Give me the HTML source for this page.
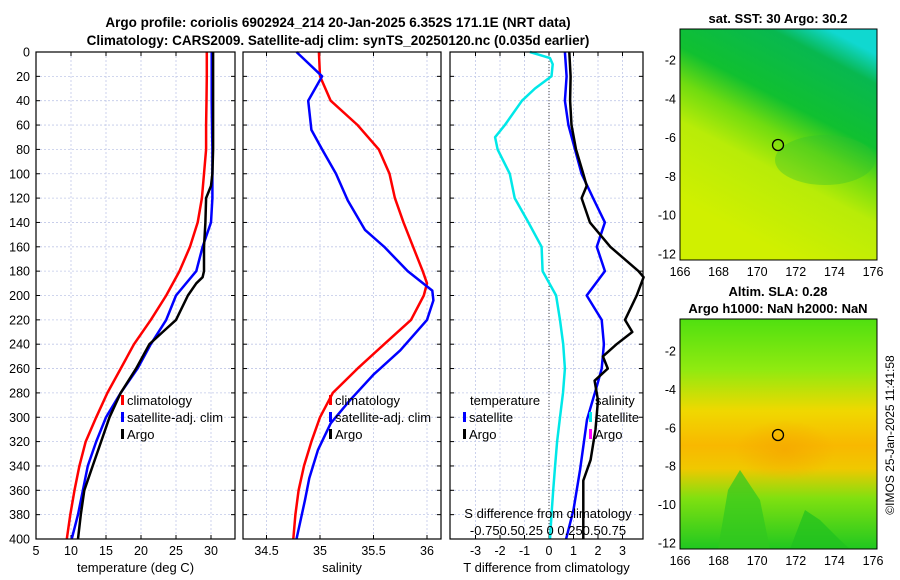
<!DOCTYPE html>
<html><head><meta charset="utf-8"><style>
body{margin:0;background:#fff;}
svg{display:block;font-family:"Liberation Sans","DejaVu Sans",sans-serif;}
</style></head><body>
<svg id="c" width="900" height="580" viewBox="0 0 900 580">
<defs>
<linearGradient id="sst" x1="0.75" y1="0" x2="0.35" y2="0.9">
<stop offset="0" stop-color="#10d8d0"/><stop offset="0.12" stop-color="#08b850"/><stop offset="0.38" stop-color="#10c030"/><stop offset="0.52" stop-color="#70dc10"/><stop offset="0.68" stop-color="#b8ec08"/><stop offset="1" stop-color="#d0f000"/>
</linearGradient>
<linearGradient id="sla" x1="0" y1="0" x2="0" y2="1">
<stop offset="0" stop-color="#50e010"/><stop offset="0.22" stop-color="#90ea10"/><stop offset="0.4" stop-color="#f0d800"/><stop offset="0.55" stop-color="#f8b800"/><stop offset="0.65" stop-color="#f0c800"/><stop offset="0.78" stop-color="#80e010"/><stop offset="1" stop-color="#20c820"/>
</linearGradient>
<radialGradient id="blob" cx="0.5" cy="0.5" r="0.5"><stop offset="0" stop-color="#f5a800" stop-opacity="0.8"/><stop offset="1" stop-color="#f5a800" stop-opacity="0"/></radialGradient>
</defs>
<text x="338" y="27" font-size="13.5" font-weight="bold" text-anchor="middle">Argo profile: coriolis 6902924_214 20-Jan-2025 6.352S 171.1E (NRT data)</text>
<text x="338" y="45" font-size="13.5" font-weight="bold" text-anchor="middle">Climatology: CARS2009. Satellite-adj clim: synTS_20250120.nc (0.035d earlier)</text>
<g id="g"></g>
<g>
<text x="778" y="23" font-size="13" font-weight="bold" text-anchor="middle">sat. SST: 30 Argo: 30.2</text>
<rect x="680" y="29" width="197" height="231" fill="url(#sst)"/>
<ellipse cx="825" cy="160" rx="50" ry="25" fill="#30c030" opacity="0.35"/>
<circle cx="778" cy="145" r="5.5" fill="none" stroke="#000" stroke-width="1.3"/>
<rect x="680" y="29" width="197" height="231" fill="none" stroke="#000"/>
</g>
<g>
<text x="778" y="296" font-size="13" font-weight="bold" text-anchor="middle">Altim. SLA: 0.28</text>
<text x="778" y="313" font-size="13" font-weight="bold" text-anchor="middle">Argo h1000: NaN h2000: NaN</text>
<rect x="680" y="319" width="197" height="230" fill="url(#sla)"/>
<ellipse cx="785" cy="450" rx="50" ry="30" fill="url(#blob)"/>
<path d="M718 549 L728 490 L740 470 L760 500 L770 549 Z" fill="#30c820" opacity="0.7"/>
<path d="M790 549 L805 510 L820 520 L840 540 L850 549 Z" fill="#20c020" opacity="0.7"/>
<circle cx="778" cy="435" r="5.5" fill="none" stroke="#000" stroke-width="1.3"/>
<rect x="680" y="319" width="197" height="230" fill="none" stroke="#000"/>
</g>
<text transform="translate(894,435) rotate(-90)" font-size="12" text-anchor="middle">©IMOS 25-Jan-2025 11:41:58</text>
</svg>
<script>
const depthsClim=[0,20,40,60,80,100,120,140,160,180,200,220,240,260,280,300,320,340,360,380,400];
const tempClim=[29.4,29.4,29.35,29.3,29.3,29.0,28.7,28.1,27,25.5,23.6,21.4,19,17.1,15.2,13.6,12.1,11.2,10.5,9.9,9.4];
const tempSat=[30.1,30.1,30.1,30.15,30.2,30.2,30.2,30.0,28.8,27.9,25,23.6,21.4,19.5,17.1,15,13.6,12.4,11.7,11,10.1];
const depthsArgo=[0,20,40,60,80,100,110,120,140,160,180,185,190,200,220,230,240,260,280,300,320,340,360,380,400];
const tempArgo=[30.3,30.3,30.3,30.3,30.3,30.2,30.0,29.3,29.2,29.0,29.0,28.8,27.9,26.7,25,23.1,21.2,19.3,17.1,15.5,14.3,13.1,11.9,11.4,11.0];
const depthsSal=[0,20,40,60,80,100,120,140,160,180,190,200,220,240,260,280,300,320,340,360,380,400];
const salClim=[34.99,35,35.1,35.35,35.55,35.65,35.7,35.78,35.87,35.96,36.0,35.97,35.85,35.6,35.35,35.12,35,34.92,34.85,34.8,34.77,34.75];
const depthsSalSat=[0,20,40,64,80,100,122,146,160,180,196,204,220,245,265,286,305,327,350,368,400];
const salSat=[34.78,35.02,34.89,34.92,35.02,35.15,35.26,35.42,35.6,35.82,36.05,36.06,36.0,35.75,35.5,35.28,35.1,34.98,34.9,34.86,34.78];
const depthsDS=[0,5,10,20,30,40,60,70,80,100,120,140,160,180,200,220,240,260,280,300,320,340,360,380,400];
const dSat=[-0.78,0.04,0.15,0.1,-0.57,-1.1,-1.8,-2.2,-2.1,-1.6,-1.4,-0.84,-0.3,-0.26,0.29,0.45,0.58,0.65,0.57,0.45,0.33,0.25,0.17,0.1,0.04];
const depthsDT=[0,20,40,60,80,100,120,140,160,180,200,220,240,260,274,302,343,376,400];
const dTsat=[0.65,0.72,0.65,0.79,1.06,1.33,1.8,2.28,1.95,2.28,1.54,2.15,2.24,2.15,1.96,1.55,1.27,1.0,0.7];
const depthsDA=[0,20,40,60,80,100,110,120,140,160,180,185,200,220,230,240,250,260,270,286,310,335,352,400];
const dTargo=[0.83,0.88,0.86,0.92,1.1,1.4,1.54,1.33,1.67,2.5,3.65,3.86,3.58,3.1,3.4,2.76,2.2,2.4,1.86,2.0,1.9,1.7,1.4,1.4];
const tTicks=[5,10,15,20,25,30];
const sTicks=[34.5,35,35.5,36];
const dTicks=[-3,-2,-1,0,1,2,3];
const depthTicks=[0,20,40,60,80,100,120,140,160,180,200,220,240,260,280,300,320,340,360,380,400];

const NS='http://www.w3.org/2000/svg';
const G=document.getElementById('g');
function mk(t,a,p){const e=document.createElementNS(NS,t);for(const k in a)e.setAttribute(k,a[k]);(p||G).appendChild(e);return e;}
const yTop=52,yBot=539;
const yD=d=>yTop+d*(yBot-yTop)/400;
const panels=[
 {x0:36,x1:235,f:v=>36+(v-5)*7,ticks:tTicks,label:'temperature (deg C)',name:'temperature-panel',yl:true},
 {x0:243,x1:441,f:v=>320+(v-35)*107,ticks:sTicks,label:'salinity',name:'salinity-panel'},
 {x0:450,x1:643,f:v=>549+v*24.5,ticks:dTicks,label:'T difference from climatology',name:'difference-panel'}
];
panels.forEach(p=>{
 const g=mk('g',{});
 
 
 depthTicks.forEach(d=>{mk('line',{x1:p.x0,x2:p.x1,y1:yD(d),y2:yD(d),stroke:'#c0c8e8','stroke-dasharray':'2,2','stroke-width':0.8},g);
  mk('line',{x1:p.x0,x2:p.x0+4,y1:yD(d),y2:yD(d),stroke:'#000'},g);mk('line',{x1:p.x1-4,x2:p.x1,y1:yD(d),y2:yD(d),stroke:'#000'},g);
  if(p.yl){const t=mk('text',{x:30,y:yD(d)+4.5,'font-size':12.5,'text-anchor':'end'},g);t.textContent=d;}});
 p.ticks.forEach(v=>{const x=p.f(v);mk('line',{x1:x,x2:x,y1:yTop,y2:yBot,stroke:'#c0c8e8','stroke-dasharray':'2,2','stroke-width':0.8},g);
  mk('line',{x1:x,x2:x,y1:yBot-4,y2:yBot,stroke:'#000'},g);mk('line',{x1:x,x2:x,y1:yTop,y2:yTop+4,stroke:'#000'},g);
  const t=mk('text',{x:x,y:555,'font-size':12.5,'text-anchor':'middle'},g);t.textContent=v;});
 const t=mk('text',{x:(p.x0+p.x1)/2,y:572,'font-size':13,'text-anchor':'middle'},g);t.textContent=p.label;
 p.g=g;
});
function line(p,ds,vals,col,w,name){const pts=ds.map((d,i)=>p.f(vals[i]).toFixed(1)+','+yD(d).toFixed(1)).join(' ');
 const e=mk('polyline',{points:pts,fill:'none',stroke:col,'stroke-width':w,'stroke-linejoin':'round'},p.g);
 
 }
mk('line',{x1:549,x2:549,y1:yTop,y2:yBot,stroke:'#444','stroke-dasharray':'1,2'},panels[2].g);
line(panels[0],depthsClim,tempClim,'#f00',2.5,'temp-climatology-line');
line(panels[0],depthsClim,tempSat,'#00f',2.5,'temp-satellite-line');
line(panels[0],depthsArgo,tempArgo,'#000',2.5,'temp-argo-line');
line(panels[1],depthsSal,salClim,'#f00',2.5,'sal-climatology-line');
line(panels[1],depthsSalSat,salSat,'#00f',2.5,'sal-satellite-line');
line(panels[2],depthsDS,dSat,'#00e8e8',2.5,'sal-diff-satellite-line');
line(panels[2],depthsDT,dTsat,'#00f',2.5,'temp-diff-satellite-line');
line(panels[2],depthsDA,dTargo,'#000',2.5,'temp-diff-argo-line');
function leg(g,x,y,col,txt,name){const e=mk('g',{},g);
 
 
 mk('rect',{x:x,y:y-10,width:3,height:10,fill:col},e);const t=mk('text',{x:x+6,y:y,'font-size':13},e);t.textContent=txt;}
[[0,121],[1,329]].forEach(([i,x])=>{const g=panels[i].g;
 leg(g,x,405,'#f00','climatology','legend-climatology');
 leg(g,x,422,'#00f','satellite-adj. clim','legend-satellite');
 leg(g,x,439,'#000','Argo','legend-argo');});
const g3=panels[2].g;
let t=mk('text',{x:470,y:405,'font-size':13},g3);t.textContent='temperature';
t=mk('text',{x:595,y:405,'font-size':13},g3);t.textContent='salinity';
leg(g3,463,422,'#00f','satellite','legend-temp-satellite');
leg(g3,463,439,'#000','Argo','legend-temp-argo');
leg(g3,589,422,'#00e8e8','satellite','legend-sal-satellite');
leg(g3,589,439,'#f0f','Argo','legend-sal-argo');
t=mk('text',{x:548,y:518,'font-size':13,'text-anchor':'middle'},g3);t.textContent='S difference from climatology';
t=mk('text',{x:548,y:535,'font-size':13,'text-anchor':'middle'},g3);t.textContent='-0.750.50.25 0 0.250.50.75';
panels.forEach(p=>mk('rect',{x:p.x0,y:yTop,width:p.x1-p.x0,height:yBot-yTop,fill:'none',stroke:'#000','stroke-width':1.2},p.g));
const lonTicks=[166,168,170,172,174,176];
const latTicks=[-2,-4,-6,-8,-10,-12];
[[29,260,60,254],[319,549,351,543]].forEach(([y0,y1,la2,la12],mi)=>{
 const mg=mk('g',{});
 
 
 lonTicks.forEach(l=>{const x=680+(l-166)*19.3;mk('line',{x1:x,x2:x,y1:y1,y2:y1-3,stroke:'#000'},mg);mk('line',{x1:x,x2:x,y1:y0,y2:y0+3,stroke:'#000'},mg);
  const tt=mk('text',{x:x,y:y1+16,'font-size':12.5,'text-anchor':'middle'},mg);tt.textContent=l;});
 latTicks.forEach(l=>{const y=la2+(-2-l)*(la12-la2)/10;mk('line',{x1:680,x2:683,y1:y,y2:y,stroke:'#000'},mg);mk('line',{x1:877,x2:874,y1:y,y2:y,stroke:'#000'},mg);
  const tt=mk('text',{x:676,y:y+4.5,'font-size':12.5,'text-anchor':'end'},mg);tt.textContent=l;});
});
</script>
</body></html>
